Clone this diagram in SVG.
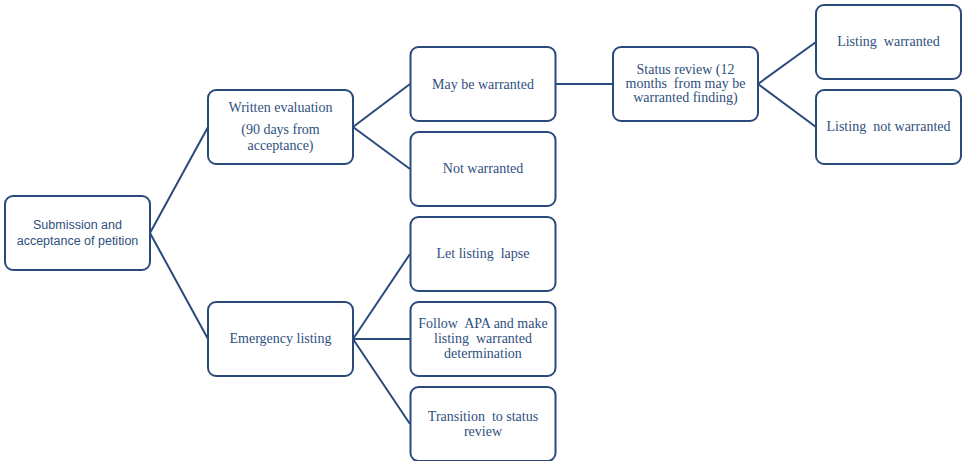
<svg xmlns="http://www.w3.org/2000/svg" width="962" height="461" viewBox="0 0 962 461" xml:space="preserve">
<style>
.box{fill:#fff;stroke:#2b4a7c;stroke-width:2}
.c{fill:none;stroke:#2b4a7c;stroke-width:2}
.t{font-family:"Liberation Serif",serif;font-size:14px;fill:#2f4f80;text-anchor:middle;white-space:pre}
.s{font-family:"Liberation Sans",sans-serif;font-size:12.5px;fill:#2f4f80;text-anchor:middle}
</style>
<rect width="962" height="461" fill="#fff"/>
<g id="connectors">
<path class="c" d="M150,233 L208,127 M150,233 L208,339"/>
<path class="c" d="M353,127 L410,84 M353,127 L410,169"/>
<path class="c" d="M555,84 L613,84"/>
<path class="c" d="M758,84 L816,42 M758,84 L816,127"/>
<path class="c" d="M353,339 L410,254 M353,339 L410,339 M353,339 L410,424"/>
</g>
<g id="root"><rect class="box" x="5" y="196" width="145" height="74" rx="8"/>
<text class="s" x="77.5" y="229">Submission and</text><text class="s" x="77.5" y="245">acceptance of petition</text></g>
<g id="written"><rect class="box" x="208" y="90" width="145" height="74" rx="8"/>
<text class="t" x="280.5" y="112">Written evaluation</text><text class="t" x="280.5" y="134">(90 days from</text><text class="t" x="280.5" y="150">acceptance)</text></g>
<g id="emergency"><rect class="box" x="208" y="302" width="145" height="74" rx="8"/>
<text class="t" x="280.5" y="343">Emergency listing</text></g>
<g id="may"><rect class="box" x="410.5" y="47" width="145" height="74" rx="8"/>
<text class="t" x="483" y="89">May be warranted</text></g>
<g id="not"><rect class="box" x="410.5" y="132" width="145" height="74" rx="8"/>
<text class="t" x="483" y="173">Not warranted</text></g>
<g id="lapse"><rect class="box" x="410.5" y="217" width="145" height="74" rx="8"/>
<text class="t" x="483" y="258">Let listing  lapse</text></g>
<g id="apa"><rect class="box" x="410.5" y="302" width="145" height="74" rx="8"/>
<text class="t" x="483" y="328">Follow  APA and make</text><text class="t" x="483" y="343">listing  warranted</text><text class="t" x="483" y="358">determination</text></g>
<g id="transition"><rect class="box" x="410.5" y="387" width="145" height="74" rx="8"/>
<text class="t" x="483" y="421">Transition  to status</text><text class="t" x="483" y="436">review</text></g>
<g id="status"><rect class="box" x="613" y="47" width="145" height="74" rx="8"/>
<text class="t" x="685.5" y="74">Status review (12</text><text class="t" x="685.5" y="88">months  from may be</text><text class="t" x="685.5" y="102">warranted finding)</text></g>
<g id="lw"><rect class="box" x="816" y="5" width="145" height="74" rx="8"/>
<text class="t" x="888.5" y="46">Listing  warranted</text></g>
<g id="lnw"><rect class="box" x="816" y="90" width="145" height="74" rx="8"/>
<text class="t" x="888.5" y="131">Listing  not warranted</text></g>
</svg>
